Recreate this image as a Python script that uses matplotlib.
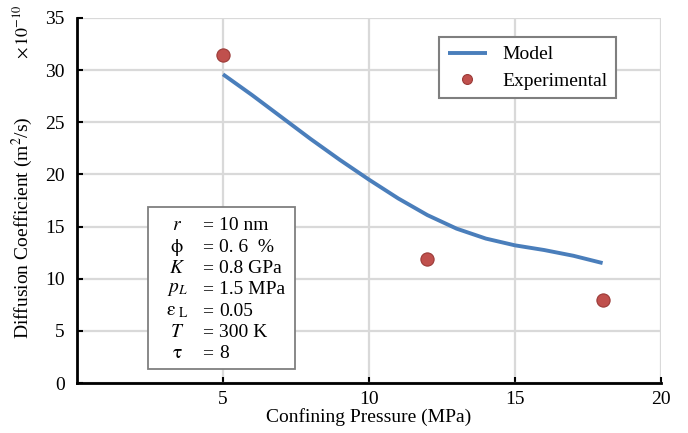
import matplotlib.pyplot as plt
from matplotlib.patches import Rectangle

plt.rcParams["font.family"] = ["Liberation Serif", "DejaVu Serif"]
plt.rcParams["mathtext.fontset"] = "stix"

# confining pressure (MPa) vs diffusion coefficient (x1e-10 m^2/s)
model_p = [5, 6, 7, 8, 9, 10, 11, 12, 13, 14, 15, 16, 17, 18]
model_d = [29.6, 27.6, 25.5, 23.4, 21.4, 19.5, 17.7, 16.1, 14.8, 13.85, 13.2, 12.75, 12.2, 11.5]
exp_p = [5, 12, 18]
exp_d = [31.5, 11.9, 8.0]

x_ticks = [5, 10, 15, 20]
y_ticks = [0, 5, 10, 15, 20, 25, 30, 35]

params = [
    (r"$r$", "10 nm"),
    (r"$\mathrm{\phi}$", "0. 6  %"),
    (r"$K$", "0.8 GPa"),
    (r"$p_{L}$", "1.5 MPa"),
    (r"$\mathrm{\varepsilon}_{\ \mathrm{L}}$", "0.05"),
    (r"$T$", "300 K"),
    (r"$\mathrm{\tau}$", "8"),
]

W, H = 688, 433
fig = plt.figure(figsize=(W / 100, H / 100), dpi=100)
ax = fig.add_axes([77 / W, 1 - 383 / H, (661 - 77) / W, (383 - 18) / H])

blue = "#4a7ebb"
red = "#c0504d"

ax.plot(model_p, model_d, color=blue, lw=2.8, label="Model", solid_capstyle="butt",
        solid_joinstyle="round", zorder=3)
ax.plot(exp_p, exp_d, "o", ms=9.5, color=red, mec="#9b3b38", mew=0.8,
        label="Experimental", zorder=4)

ax.set_xlim(0, 20)
ax.set_ylim(0, 35)
ax.set_xticks(x_ticks)
ax.set_yticks(y_ticks)
ax.grid(True, color="#d9d9d9", lw=1.6)
ax.set_axisbelow(True)
for side in ("top", "right"):
    ax.spines[side].set_visible(False)
for side in ("left", "bottom"):
    ax.spines[side].set_linewidth(2)
ax.tick_params(direction="in", length=4, width=1.5, labelsize=14)
ax.tick_params(axis="x", pad=6)
ax.tick_params(axis="y", pad=9)

ax.set_xlabel("Confining Pressure (MPa)", fontsize=14, labelpad=0)
fig.text(22 / W, 1 - 228 / H, "Diffusion Coefficient (m$^{2}$/s)", rotation=90,
         fontsize=14, ha="center", va="center")
fig.text(22 / W, 1 - 32 / H, r"$\times\,10^{-10}$", rotation=90,
         fontsize=13, ha="center", va="center")

leg = ax.legend(loc="upper right", bbox_to_anchor=(616 / W, 1 - 37 / H),
                bbox_transform=fig.transFigure, borderaxespad=0, fancybox=False,
                edgecolor="#7f7f7f", framealpha=1, fontsize=14, handlelength=2.0,
                borderpad=0.45, labelspacing=0.45, markerscale=0.75)
leg.get_frame().set_linewidth(1.5)

# parameter box
fig.patches.append(Rectangle((148 / W, 1 - 369 / H), (295 - 148) / W, (369 - 207) / H,
                             transform=fig.transFigure, facecolor="white",
                             edgecolor="#7f7f7f", lw=1.3, zorder=5))
for i, (sym, val) in enumerate(params):
    y = 1 - (226 + i * 21.3) / H
    fig.text(177 / W, y, sym, fontsize=14, ha="center", va="center", zorder=6)
    fig.text(208 / W, y, "=", fontsize=14, ha="center", va="center", zorder=6)
    fig.text(219 / W, y, val, fontsize=14, ha="left", va="center", zorder=6)

fig.savefig("out.png", dpi=100, facecolor="white")
